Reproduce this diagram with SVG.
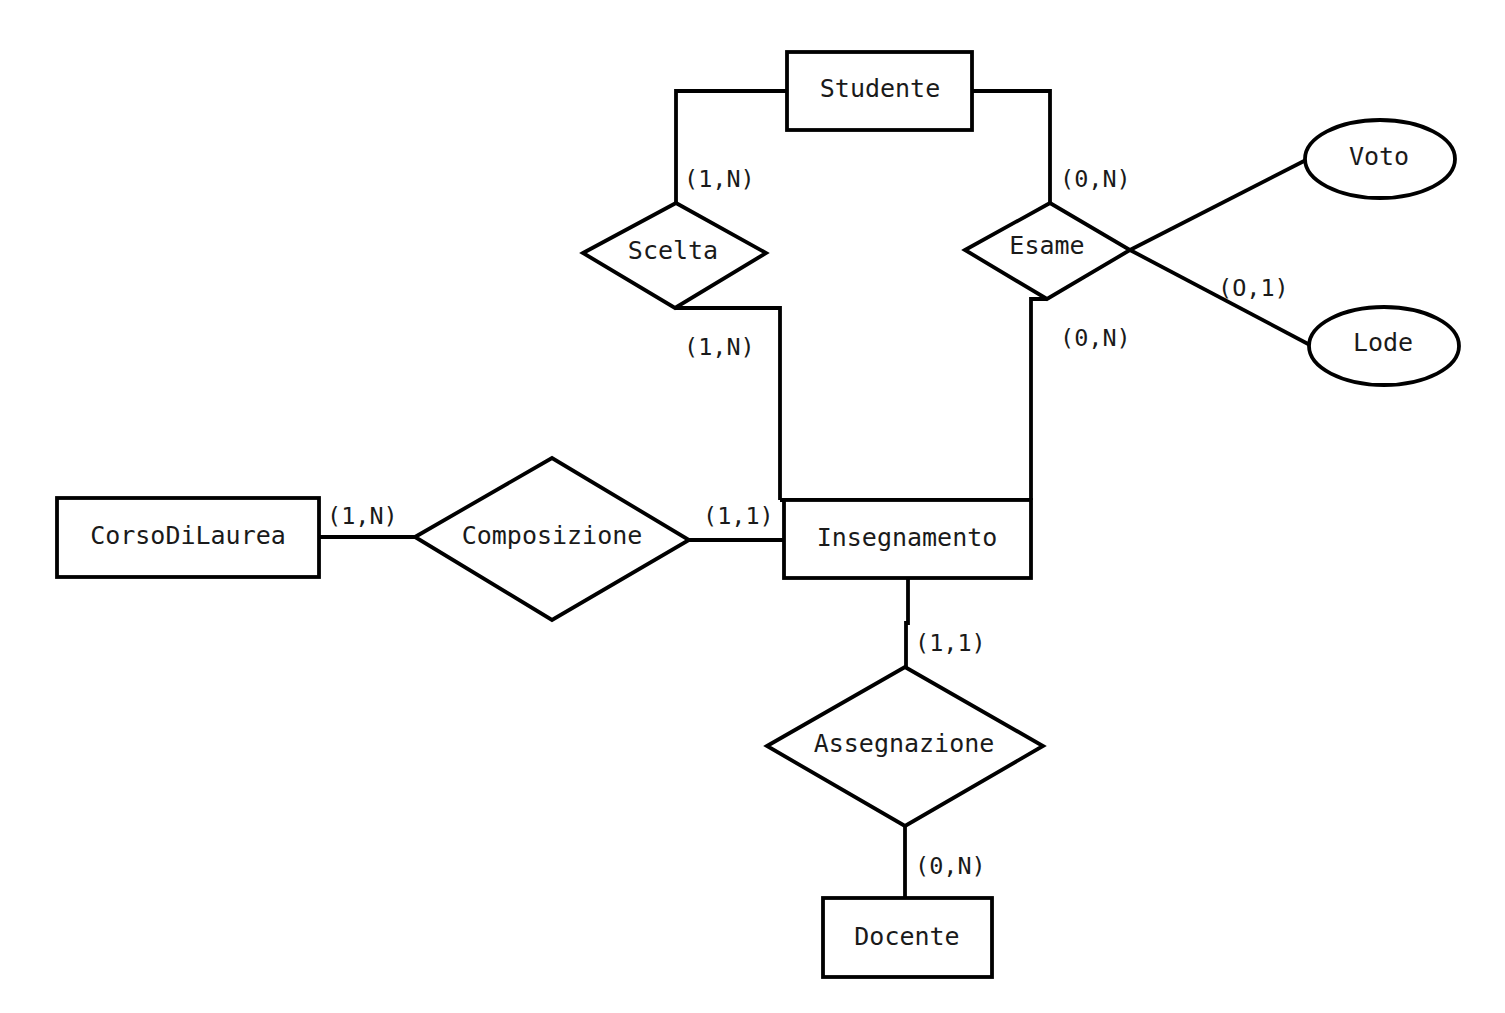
<svg xmlns="http://www.w3.org/2000/svg" width="1505" height="1013" viewBox="0 0 1505 1013">
  <style>
    .shape { fill: #ffffff; stroke: #000000; stroke-width: 3.8; stroke-linejoin: miter; }
    .link { fill: none; stroke: #000000; stroke-width: 3.8; stroke-linejoin: miter; }
    .name { font-family: "DejaVu Sans Mono", "Liberation Mono", monospace; font-size: 25px; fill: #1a1a1a; text-anchor: middle; }
    .card { font-family: "DejaVu Sans Mono", "Liberation Mono", monospace; font-size: 23.5px; fill: #1a1a1a; }
  </style>
  <rect width="1505" height="1013" fill="#ffffff"/>

  <!-- connectors -->
  <g id="connectors">
    <polyline class="link" points="787,91 676,91 676,203"/>
    <polyline class="link" points="675,308 780,308 780,500"/>
    <polyline class="link" points="972,91 1050,91 1050,203"/>
    <polyline class="link" points="1047,299 1031,299 1031,500"/>
    <line class="link" x1="1130" y1="250" x2="1306" y2="160"/>
    <line class="link" x1="1130" y1="250" x2="1310" y2="345"/>
    <line class="link" x1="319" y1="537" x2="415" y2="537"/>
    <line class="link" x1="689" y1="540" x2="784" y2="540"/>
    <polyline class="link" points="908,578 908,623 906,623 906,667"/>
    <line class="link" x1="905" y1="826" x2="905" y2="898"/>
  </g>

  <!-- cardinalities -->
  <g id="cardinalities">
    <text class="card" x="684" y="187">(1,N)</text>
    <text class="card" x="1060" y="187">(0,N)</text>
    <text class="card" x="684" y="355">(1,N)</text>
    <text class="card" x="1060" y="346">(0,N)</text>
    <text class="card" x="1218" y="296">(O,1)</text>
    <text class="card" x="327" y="524">(1,N)</text>
    <text class="card" x="703" y="524">(1,1)</text>
    <text class="card" x="915" y="651">(1,1)</text>
    <text class="card" x="915" y="874">(0,N)</text>
  </g>

  <!-- entities -->
  <g id="studente">
    <rect class="shape" x="787" y="52" width="185" height="78"/>
    <text class="name" x="880" y="97">Studente</text>
  </g>
  <g id="corsodilaurea">
    <rect class="shape" x="57" y="498" width="262" height="79"/>
    <text class="name" x="188" y="544">CorsoDiLaurea</text>
  </g>
  <g id="insegnamento">
    <line class="link" x1="780" y1="500" x2="1031" y2="500"/>
    <rect class="shape" x="784" y="500" width="247" height="78"/>
    <text class="name" x="907" y="546">Insegnamento</text>
  </g>
  <g id="docente">
    <rect class="shape" x="823" y="898" width="169" height="79"/>
    <text class="name" x="907" y="945">Docente</text>
  </g>

  <!-- relationships -->
  <g id="scelta">
    <polygon class="shape" points="583,253 676,203 766,253 675,308"/>
    <text class="name" x="673" y="259">Scelta</text>
  </g>
  <g id="esame">
    <polygon class="shape" points="965,250 1050,203 1130,250 1047,299"/>
    <text class="name" x="1047" y="254">Esame</text>
  </g>
  <g id="composizione">
    <polygon class="shape" points="415,537 552,458 689,540 552,620"/>
    <text class="name" x="552" y="544">Composizione</text>
  </g>
  <g id="assegnazione">
    <polygon class="shape" points="767,746 905,667 1043,746 905,826"/>
    <text class="name" x="904" y="752">Assegnazione</text>
  </g>

  <!-- attributes -->
  <g id="voto">
    <ellipse class="shape" cx="1380" cy="159" rx="75" ry="39"/>
    <text class="name" x="1379" y="165">Voto</text>
  </g>
  <g id="lode">
    <ellipse class="shape" cx="1384" cy="346" rx="75" ry="39"/>
    <text class="name" x="1383" y="351">Lode</text>
  </g>
</svg>
